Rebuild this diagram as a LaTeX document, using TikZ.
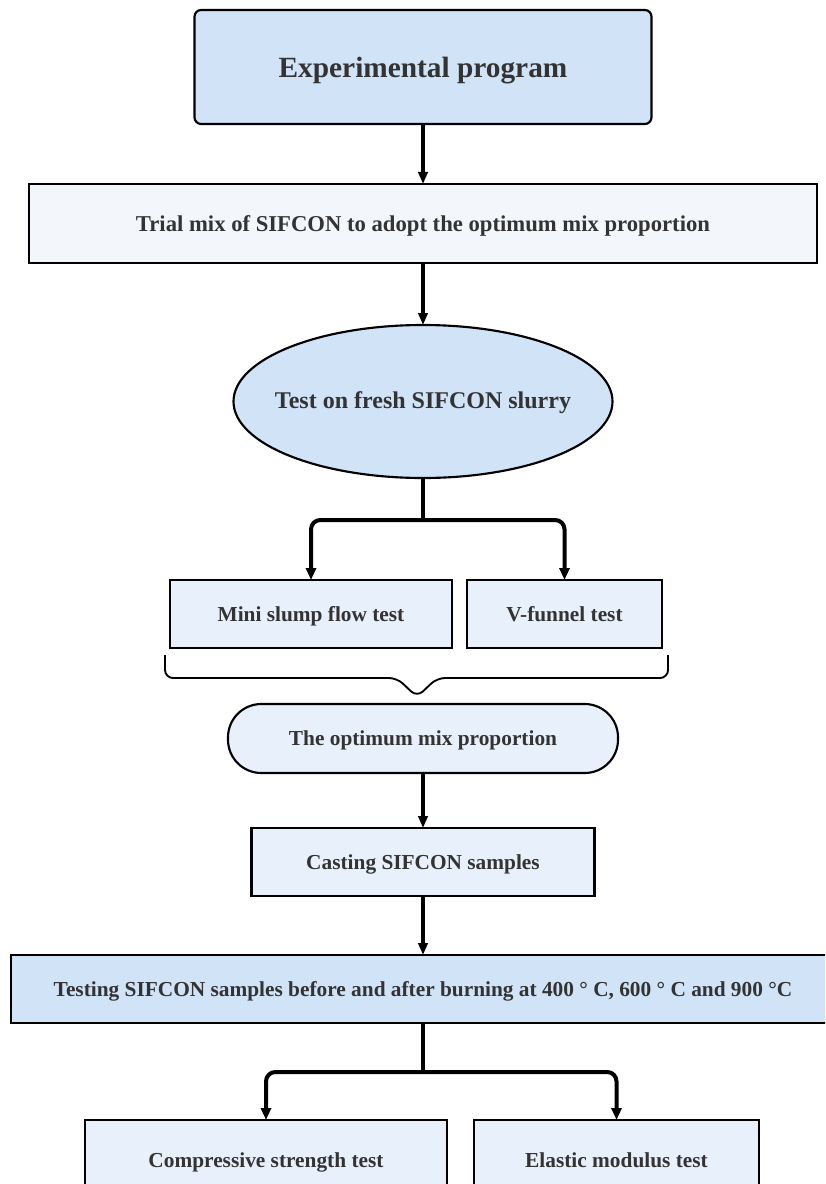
\documentclass[tikz,border=0pt]{standalone}
\usepackage{fontspec}
\setmainfont{Liberation Serif}
\usepackage{xcolor}
\usepackage{tikz}
\usetikzlibrary{arrows.meta,shapes.geometric}

\definecolor{headblue}{HTML}{D0E3F7}
\definecolor{paleblue}{HTML}{F3F7FC}
\definecolor{lightblue}{HTML}{E8F0FB}
\definecolor{txtgray}{HTML}{333333}

\tikzset{
  box/.style={draw=black, line width=1.6pt, text=txtgray, inner sep=0pt, outer sep=0pt,
    text depth=0pt, font=\bfseries\fontsize{16}{19}\selectfont},
  lowtext/.style={text height=1.05em},
  arr/.style={line width=2.6pt, -{Triangle[length=9pt,width=7pt]}},
  branch/.style={line width=3pt, rounded corners=7pt},
  brarr/.style={branch, -{Triangle[length=9pt,width=7.5pt]}}
}

\begin{document}
\begin{tikzpicture}[x=0.75pt, y=-0.75pt]
            \useasboundingbox (0,0) rectangle (825,1184);
            \clip (0,0) rectangle (825,1184);
            \node[box, fill=headblue, rounded corners=5pt, minimum width=342.75pt,
            minimum height=85.5pt, font=\bfseries\fontsize{22}{26}\selectfont]
            (prog) at (423,67) {Experimental program};
            \node[box, fill=paleblue, minimum width=591pt, minimum height=59.25pt,
            font=\bfseries\fontsize{17}{20}\selectfont]
            (trial) at (423,223.5) {Trial mix of SIFCON to adopt the optimum mix proportion};
            \node[box, lowtext, ellipse, fill=headblue, minimum width=284.25pt, minimum height=114.75pt,
            font=\bfseries\fontsize{18}{21}\selectfont]
            (fresh) at (423,401.5) {\makebox[0pt]{Test on fresh SIFCON slurry}};
            \node[box, lowtext, fill=lightblue, minimum width=211.5pt, minimum height=51pt]
            (mini) at (311,614) {Mini slump flow test};
            \node[box, lowtext, fill=lightblue, minimum width=146.25pt, minimum height=51pt]
            (vfun) at (564.5,614) {V-funnel test};
            \node[box, fill=lightblue, rounded corners=25pt, minimum width=292.5pt,
            minimum height=51.75pt]
            (optimum) at (423,738.5) {The optimum mix proportion};
            \node[box, lowtext, fill=lightblue, minimum width=257.25pt, minimum height=51pt]
            (casting) at (423,862) {Casting SIFCON samples};
            \node[box, fill=headblue, minimum width=618pt, minimum height=51pt]
            (testing) at (423,989) {Testing SIFCON samples before and after burning at 400 ° C, 600 ° C and 900 °C};
            \node[box, fill=lightblue, minimum width=271.5pt, minimum height=60pt]
            (comp) at (266,1160) {Compressive strength test};
            \node[box, fill=lightblue, minimum width=213.75pt, minimum height=60pt]
            (elastic) at (616.5,1160) {Elastic modulus test};

            \coordinate (split1) at (423,520);
            \coordinate (split2) at (423,1072);

            \draw[arr] (prog.south) -- (trial.north);
            \draw[arr] (trial.south) -- (fresh.north);
            \draw[branch] (fresh.south) -- (split1);
            \draw[brarr] (split1) -| (mini.north);
            \draw[brarr] (split1) -| (vfun.north);
            \draw[line width=1.4pt, rounded corners=6pt] (165,655) -- (165,678) -- (397,678)
            -- (417,697) -- (437,678) -- (668,678) -- (668,655);
            \draw[arr] (optimum.south) -- (casting.north);
            \draw[arr] (casting.south) -- (testing.north);
            \draw[branch] (testing.south) -- (split2);
            \draw[brarr] (split2) -| (comp.north);
            \draw[brarr] (split2) -| (elastic.north);
        \end{tikzpicture}
\end{document}
